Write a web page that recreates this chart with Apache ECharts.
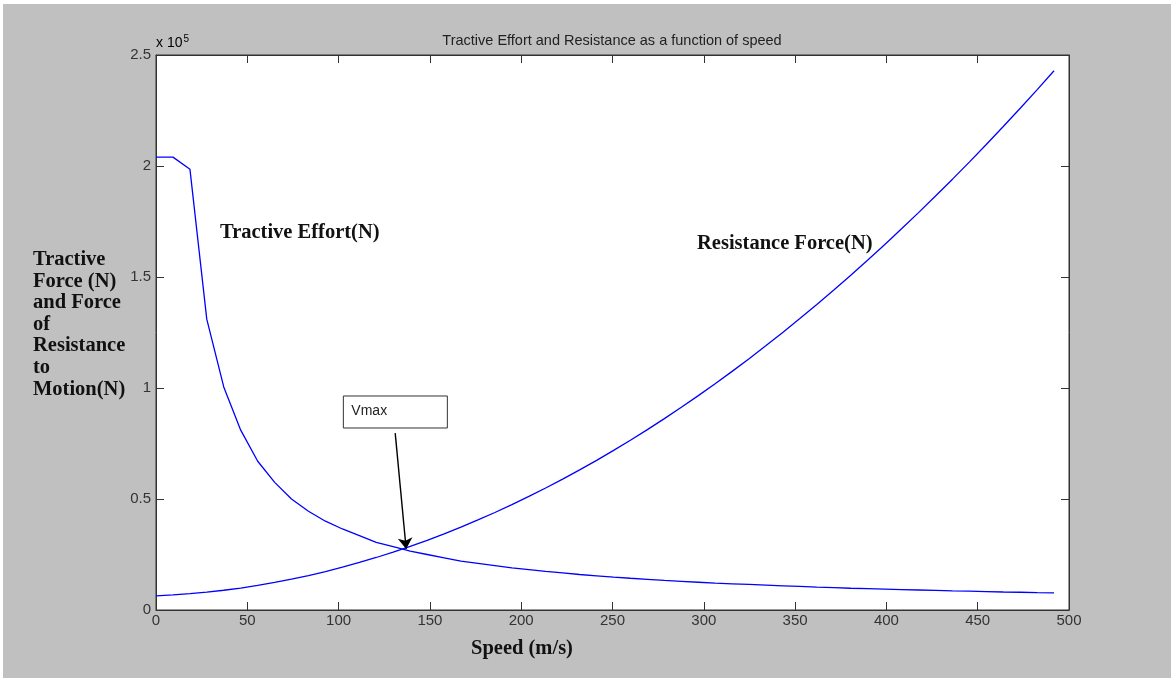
<!DOCTYPE html>
<html>
<head>
<meta charset="utf-8">
<script src="https://cdn.jsdelivr.net/npm/echarts@6/dist/echarts.min.js"></script>
<style>
  html, body { margin: 0; padding: 0; background: #ffffff; }
  #frame { position: absolute; left: 3px; top: 4px; width: 1168px; height: 674px; background: #c0c0c0; }
  #chart { position: absolute; left: 0; top: 0; width: 1175px; height: 681px; }
</style>
</head>
<body>
<div id="frame"></div>
<div id="chart"></div>
<script>
// Speed samples (m/s)
const speed = [0, 9.3, 18.6, 27.8, 37.1, 46.4, 55.7, 65.0, 74.2, 83.5, 92.8, 102.1, 111.4, 120.6, 129.9,
  139.2, 148.5, 157.8, 167.0, 176.3, 185.6, 194.9, 204.2, 213.4, 222.7, 232.0, 241.3, 250.6, 259.8,
  269.1, 278.4, 287.7, 297.0, 306.2, 315.5, 324.8, 334.1, 343.4, 352.6, 361.9, 371.2, 380.5, 389.8,
  399.0, 408.3, 417.6, 426.9, 436.2, 445.4, 454.7, 464.0, 473.3, 482.6, 491.8];

// Tractive effort (N)
const tractiveEffort = [204000, 204000, 198500, 131000, 100500, 81000, 67000, 57500, 50000, 44500, 40000,
  36500, 33500, 30500, 28500, 26500, 25000, 23500, 22000, 21000, 20000, 19000, 18200, 17400, 16700,
  16000, 15400, 14800, 14300, 13800, 13300, 12900, 12500, 12100, 11800, 11500, 11200, 10900, 10600,
  10300, 10100, 9800, 9600, 9400, 9200, 9000, 8800, 8600, 8500, 8300, 8100, 8000, 7800, 7700];

// Resistance to motion (N)
const resistance = [6400, 6790, 7340, 8030, 8890, 9900, 11080, 12410, 13880, 15530, 17330, 19290, 21400,
  23650, 26080, 28670, 31410, 34320, 37340, 40560, 43930, 47460, 51150, 54950, 58950, 63110, 67420,
  71890, 76470, 81260, 86200, 91300, 96560, 101920, 107490, 113220, 119100, 125140, 131280, 137630,
  144150, 150820, 157650, 164560, 171700, 179000, 186460, 194070, 201760, 209690, 217770, 226010,
  234410, 242880];

// Axis ticks
const xTicks = [0, 50, 100, 150, 200, 250, 300, 350, 400, 450, 500];
const yTickLabels = ['0', '0.5', '1', '1.5', '2', '2.5'];

// Operating point where the two curves cross, and the start of its callout arrow
const vmaxPoint = [137, 27500];
const arrowStart = [131, 79700];
const vmaxBoxTopLeft = [102.6, 96400];

const chart = echarts.init(document.getElementById('chart'), null, { renderer: 'canvas' });

const sans = 'Liberation Sans, Arial, sans-serif';
const serif = 'Liberation Serif, Times New Roman, serif';
const tickFont = { fontFamily: sans, fontSize: 15, color: '#333333' };

const xBase = {
  type: 'value', min: xTicks[0], max: xTicks[xTicks.length - 1], interval: 50,
  axisLine: { show: true, onZero: false, lineStyle: { color: '#333333', width: 1 } },
  axisTick: { show: true, inside: true, length: 8, lineStyle: { color: '#333333' } },
  splitLine: { show: false }
};
const yBase = {
  type: 'value', min: 0, max: 250000, interval: 50000,
  axisLine: { show: true, onZero: false, lineStyle: { color: '#333333', width: 1 } },
  axisTick: { show: true, inside: true, length: 8, lineStyle: { color: '#333333' } },
  splitLine: { show: false }
};

chart.setOption({
  animation: false,
  backgroundColor: 'transparent',
  grid: { left: 156, top: 55, width: 913, height: 555, show: true, backgroundColor: '#ffffff',
          borderColor: '#333333', borderWidth: 1 },
  xAxis: [
    Object.assign({}, xBase, { position: 'bottom',
      axisLabel: Object.assign({ margin: 3 }, tickFont) }),
    Object.assign({}, xBase, { position: 'top', axisLabel: { show: false } })
  ],
  yAxis: [
    Object.assign({}, yBase, { position: 'left',
      axisLabel: Object.assign({ margin: 5, formatter: v => yTickLabels[Math.round(v / 50000)] }, tickFont) }),
    Object.assign({}, yBase, { position: 'right', axisLabel: { show: false } })
  ],
  series: [
    {
      name: 'Tractive Effort(N)', type: 'line', showSymbol: false, silent: true,
      data: speed.map((s, i) => [s, tractiveEffort[i]]),
      lineStyle: { color: '#0000ff', width: 1.3 },
      markLine: {
        silent: true, symbol: ['none', 'arrow'], symbolSize: 11,
        lineStyle: { color: '#000000', width: 1.4, type: 'solid' },
        label: { show: false },
        data: [[{ coord: arrowStart }, { coord: vmaxPoint }]]
      }
    },
    {
      name: 'Resistance Force(N)', type: 'line', showSymbol: false, silent: true,
      data: speed.map((s, i) => [s, resistance[i]]),
      lineStyle: { color: '#0000ff', width: 1.3 }
    }
  ]
});

// Annotations: title, exponent, axis titles, curve labels and the Vmax callout box
const boxPx = chart.convertToPixel({ gridIndex: 0 }, vmaxBoxTopLeft);
chart.setOption({
  graphic: [
    { type: 'text', x: 612, y: 33, style: { text: 'Tractive Effort and Resistance as a function of speed',
      font: '14.5px Liberation Sans, Arial, sans-serif', fill: '#222222', align: 'center' } },
    { type: 'text', left: 156, top: 34, style: { text: '{a|x 10}{b|5}',
      rich: { a: { fontFamily: sans, fontSize: 14, color: '#333333' },
              b: { fontFamily: sans, fontSize: 10, color: '#333333', verticalAlign: 'top', padding: [0, 0, 9, 1] } } } },
    { type: 'text', left: 33, top: 249, style: {
      text: 'Tractive\nForce (N)\nand Force\nof\nResistance\nto\nMotion(N)',
      fontFamily: serif, fontSize: 20.5, fontWeight: 'bold', lineHeight: 21.6, fill: '#111111' } },
    { type: 'text', left: 471, top: 638, style: { text: 'Speed (m/s)',
      fontFamily: serif, fontSize: 20.5, fontWeight: 'bold', fill: '#111111' } },
    { type: 'text', left: 220, top: 222, style: { text: 'Tractive Effort(N)',
      fontFamily: serif, fontSize: 20.5, fontWeight: 'bold', fill: '#111111' } },
    { type: 'text', left: 697, top: 233, style: { text: 'Resistance Force(N)',
      fontFamily: serif, fontSize: 20.5, fontWeight: 'bold', fill: '#111111' } },
    { type: 'rect', x: boxPx[0], y: boxPx[1], shape: { width: 104, height: 32 },
      style: { fill: '#ffffff', stroke: '#333333', lineWidth: 1 } },
    { type: 'text', x: boxPx[0] + 8, y: boxPx[1] + 8, style: { text: 'Vmax',
      font: '14px Liberation Sans, Arial, sans-serif', fill: '#222222' } }
  ]
});
</script>
</body>
</html>
